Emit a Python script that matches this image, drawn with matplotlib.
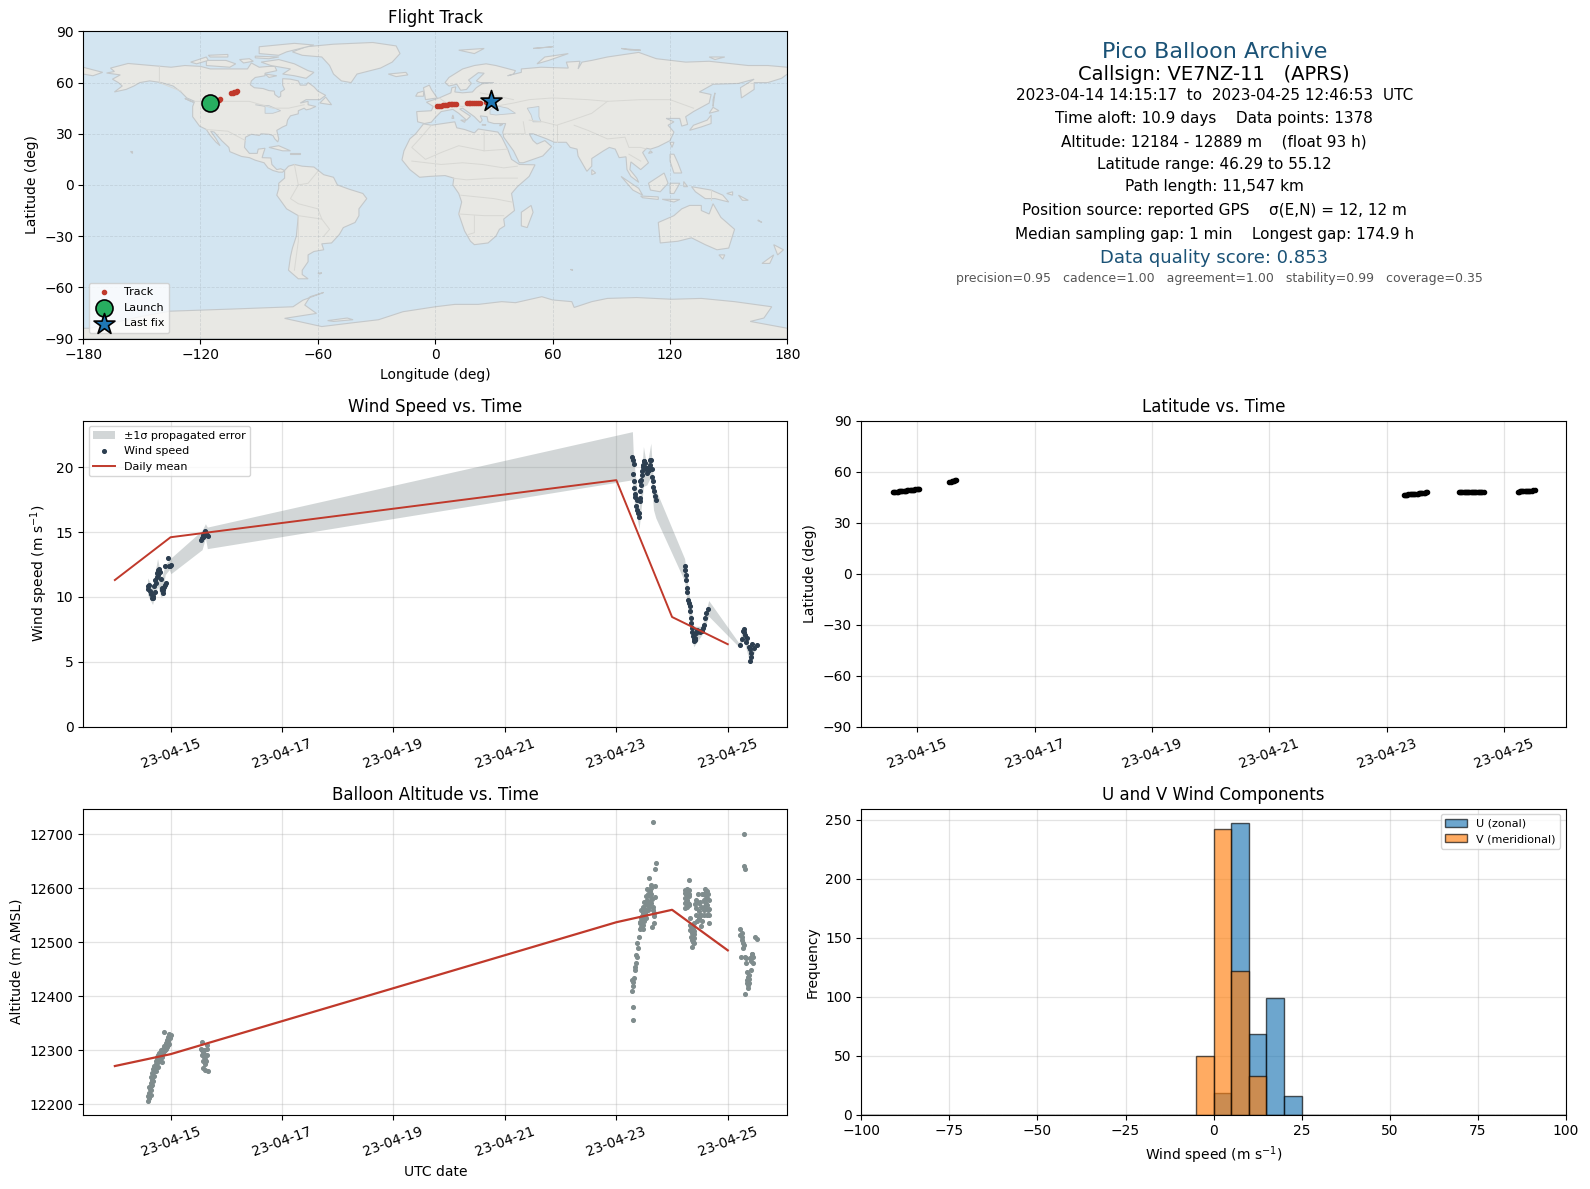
#!/usr/bin/env python3
"""Pico balloon flight summary figure (VE7NZ-11)."""

import matplotlib
matplotlib.use("Agg")
import matplotlib.dates as mdates
import matplotlib.pyplot as plt
import pandas as pd

RED = "#c0392b"
NAVY = "#2c3e50"
GREY = "#7f8c8d"
TITLE_BLUE = "#1a5276"

# all times are given as day of April 2023
tick_days = [15, 17, 19, 21, 23, 25]
mean_days = [14, 15, 23, 24, 25]
mean_wind = [11.3, 14.6, 19.0, 8.45, 6.35]
mean_alt = [12271, 12293, 12537, 12560, 12485]

wind_days = [14.586, 14.600, 14.616, 14.634, 14.650, 14.664, 14.676, 14.688, 14.706, 14.715, 14.724, 14.736,
             14.748, 14.757, 14.766, 14.775, 14.784, 14.796, 14.808, 14.826, 14.838, 14.847, 14.856, 14.868,
             14.880, 14.892, 14.916, 14.904, 14.946, 14.964, 14.985, 15.006,
             15.547, 15.565, 15.577, 15.589, 15.601, 15.613, 15.625, 15.637, 15.652, 15.667, 15.589, 15.625,
             23.288, 23.306, 23.312, 23.306, 23.324, 23.324, 23.330, 23.342, 23.366, 23.348, 23.372, 23.390,
             23.402, 23.414, 23.420, 23.420, 23.432, 23.438, 23.432, 23.444, 23.456, 23.468, 23.486, 23.505,
             23.516, 23.535, 23.559, 23.583, 23.607, 23.625, 23.637, 23.643, 23.655, 23.655, 23.667, 23.685,
             23.703, 23.474, 23.495, 23.526, 23.547, 23.571, 23.595, 23.613,
             24.225, 24.237, 24.243, 24.255, 24.267, 24.273, 24.285, 24.297, 24.315, 24.327, 24.339, 24.345,
             24.357, 24.375, 24.399, 24.417, 24.435, 24.477, 24.538, 24.568, 24.586, 24.616, 24.646,
             24.366, 24.387, 24.408, 24.456, 24.507, 24.553,
             25.228, 25.258, 25.276, 25.300, 25.318, 25.348, 25.378, 25.408, 25.396, 25.438, 25.468, 25.516,
             25.288, 25.333, 25.420, 25.402]
wind_speed = [10.82, 10.60, 10.95, 10.44, 10.25, 9.95, 10.10, 9.92, 10.82, 10.40, 11.33, 11.10,
              11.85, 11.55, 12.10, 11.70, 12.15, 12.00, 11.90, 11.38, 10.69, 10.50, 10.31, 10.56,
              10.75, 10.95, 11.08, 12.36, 13.00, 12.41, 12.42, 12.44,
              14.41, 14.54, 14.65, 14.79, 14.90, 15.05, 14.98, 14.92, 14.80, 14.67, 14.60, 14.75,
              20.82, 20.56, 20.23, 19.46, 18.90, 18.38, 17.95, 17.69, 17.49, 16.97, 16.72, 16.46,
              16.15, 16.46, 17.36, 17.62, 18.18, 18.64, 18.90, 19.03, 19.41, 19.67, 20.05, 20.44,
              20.31, 19.92, 19.54, 19.79, 20.56, 20.56, 19.85, 19.28, 18.90, 18.46, 18.13, 17.79,
              17.44, 20.20, 20.48, 19.85, 19.95, 19.70, 19.90, 20.20,
              12.36, 12.05, 11.72, 11.33, 10.69, 10.36, 9.79, 9.54, 9.28, 8.90, 8.38, 8.00,
              7.62, 6.97, 6.59, 6.85, 7.23, 7.36, 7.36, 7.87, 8.38, 8.77, 9.03,
              7.30, 6.75, 6.70, 7.45, 7.30, 7.60,
              6.26, 6.72, 7.36, 7.54, 7.10, 6.85, 6.15, 5.69, 5.05, 6.33, 6.08, 6.26,
              7.30, 6.50, 5.40, 6.00]

band_days = [14.586, 14.676, 14.766, 14.838, 14.904, 14.976, 15.006, 15.565, 15.625, 15.660,
             23.288, 23.306, 23.408, 23.486, 23.547, 23.619, 23.667, 23.709, 24.225, 24.285,
             24.387, 24.538, 24.658, 25.198, 25.288, 25.396, 25.516]
band_low = [10.18, 9.41, 10.82, 9.92, 11.72, 12.10, 11.79, 13.64, 14.54, 13.72,
            19.03, 17.74, 15.23, 18.51, 18.64, 19.28, 16.72, 16.08, 11.21, 9.03,
            6.15, 7.10, 8.51, 6.15, 6.72, 4.87, 6.15]
band_high = [11.46, 10.82, 12.95, 11.46, 12.49, 12.87, 13.00, 15.13, 15.64, 15.38,
             22.74, 20.82, 16.72, 21.59, 20.05, 21.85, 18.64, 18.26, 12.95, 10.82,
             7.74, 7.74, 9.72, 6.46, 7.74, 5.95, 6.33]

alt_days = [14.59, 14.60, 14.61, 14.62, 14.62, 14.63, 14.64, 14.65, 14.65, 14.66, 14.67, 14.68, 14.69, 14.70,
            14.70, 14.72, 14.73, 14.74, 14.75, 14.76, 14.77, 14.78, 14.79, 14.80, 14.81, 14.82, 14.84, 14.86,
            14.88, 14.90, 14.91, 14.92, 14.93, 14.94, 14.95, 14.96, 14.97, 14.98, 14.99, 15.00, 14.89,
            14.64, 14.65, 14.67, 14.69, 14.71, 14.73, 14.75, 14.77, 14.80, 14.82, 14.84, 14.85, 14.87,
            14.88, 14.90, 14.92, 14.94, 14.96, 14.98,
            15.559, 15.547, 15.577, 15.607, 15.649, 15.565, 15.607, 15.649, 15.589, 15.637, 15.625, 15.589,
            15.625, 15.667, 15.649, 15.595, 15.620, 15.570,
            23.306, 23.306, 23.288, 23.306, 23.294, 23.318, 23.288, 23.336, 23.330, 23.354, 23.348, 23.378,
            23.390, 23.378, 23.402, 23.420, 23.438, 23.474, 23.456, 23.486, 23.505, 23.535, 23.559, 23.583,
            23.607, 23.625, 23.649, 23.667, 23.637, 23.679, 23.547, 23.595, 23.619, 23.697, 23.691, 23.685,
            23.703, 23.649, 23.420, 23.456, 23.486, 23.516, 23.535, 23.571, 23.607,
            23.46, 23.48, 23.50, 23.52, 23.54, 23.56, 23.58, 23.60, 23.62, 23.64, 23.66, 23.68,
            23.45, 23.47, 23.50, 23.53, 23.57, 23.62, 23.44, 23.42,
            24.237, 24.237, 24.237, 24.237, 24.237, 24.267, 24.267, 24.267, 24.267, 24.297, 24.297, 24.297,
            24.297, 24.327, 24.327, 24.327, 24.357, 24.357, 24.357, 24.357, 24.387, 24.387, 24.387, 24.387,
            24.435, 24.435, 24.435, 24.477, 24.477, 24.477, 24.526, 24.526, 24.526, 24.568, 24.568, 24.568,
            24.598, 24.598, 24.598, 24.598, 24.628, 24.628, 24.628, 24.628, 24.658, 24.658, 24.658,
            24.25, 24.25, 24.28, 24.28, 24.31, 24.31, 24.34, 24.34, 24.37, 24.37, 24.40, 24.42,
            24.45, 24.46, 24.50, 24.50, 24.54, 24.54, 24.58, 24.58, 24.61, 24.61, 24.64, 24.64, 24.66,
            25.288, 25.288, 25.312, 25.228, 25.228, 25.258, 25.288, 25.276, 25.240, 25.318, 25.330, 25.427,
            25.450, 25.450, 25.408, 25.378, 25.348, 25.366, 25.384, 25.318, 25.480, 25.516,
            25.25, 25.26, 25.27, 25.34, 25.36, 25.37, 25.38, 25.40, 25.42, 25.44, 25.33, 25.35]
alt_m = [12207, 12215, 12222, 12212, 12232, 12228, 12240, 12235, 12250, 12245, 12258, 12252, 12266, 12262,
         12272, 12268, 12280, 12275, 12288, 12282, 12292, 12270, 12286, 12295, 12290, 12300, 12294, 12302,
         12308, 12300, 12314, 12310, 12320, 12306, 12325, 12317, 12330, 12312, 12322, 12328, 12334,
         12218, 12226, 12236, 12244, 12252, 12262, 12270, 12278, 12282, 12288, 12278, 12288, 12295,
         12298, 12308, 12302, 12316, 12310, 12325,
         12315, 12303, 12297, 12300, 12303, 12291, 12288, 12291, 12281, 12281, 12275, 12268,
         12263, 12262, 12309, 12293, 12284, 12300,
         12357, 12381, 12409, 12419, 12427, 12433, 12430, 12449, 12455, 12462, 12477, 12473,
         12489, 12499, 12510, 12524, 12529, 12532, 12548, 12554, 12563, 12557, 12578, 12588,
         12585, 12572, 12566, 12548, 12528, 12536, 12598, 12619, 12606, 12604, 12583, 12635,
         12646, 12722, 12537, 12540, 12545, 12550, 12570, 12560, 12595,
         12535, 12525, 12540, 12555, 12545, 12570, 12565, 12575, 12590, 12580, 12560, 12555,
         12560, 12565, 12575, 12585, 12590, 12600, 12545, 12535,
         12597, 12591, 12581, 12572, 12563, 12598, 12588, 12578, 12566, 12615, 12597, 12585,
         12569, 12544, 12532, 12523, 12529, 12517, 12504, 12492, 12535, 12520, 12507, 12498,
         12578, 12563, 12551, 12572, 12557, 12544, 12566, 12551, 12530, 12578, 12566, 12551,
         12598, 12588, 12575, 12563, 12594, 12581, 12569, 12551, 12578, 12551, 12535,
         12590, 12575, 12595, 12572, 12590, 12570, 12510, 12530, 12500, 12525, 12515, 12570,
         12540, 12590, 12550, 12575, 12590, 12540, 12560, 12590, 12595, 12570, 12560, 12590, 12562,
         12701, 12641, 12635, 12524, 12514, 12504, 12495, 12489, 12472, 12472, 12461, 12478,
         12473, 12461, 12449, 12440, 12430, 12421, 12424, 12404, 12509, 12506,
         12518, 12510, 12498, 12445, 12435, 12415, 12432, 12470, 12465, 12478, 12470, 12425]

lat_days = [14.59, 14.61, 14.63, 14.65, 14.67, 14.69, 14.71, 14.73, 14.75, 14.77, 14.79, 14.81, 14.83, 14.85,
            14.87, 14.89, 14.91, 14.93, 14.95, 14.97, 14.99, 15.01, 15.03,
            15.55, 15.57, 15.59, 15.61, 15.63, 15.65, 15.67,
            23.29, 23.31, 23.33, 23.35, 23.37, 23.39, 23.41, 23.43, 23.45, 23.47, 23.49, 23.51, 23.53, 23.55,
            23.57, 23.59, 23.61, 23.63, 23.65, 23.67, 23.69,
            24.23, 24.25, 24.27, 24.29, 24.31, 24.33, 24.35, 24.37, 24.39, 24.41, 24.43, 24.45, 24.47, 24.49,
            24.51, 24.53, 24.55, 24.57, 24.59, 24.61, 24.63, 24.66,
            25.23, 25.25, 25.27, 25.29, 25.31, 25.33, 25.35, 25.37, 25.39, 25.41, 25.43, 25.45, 25.47, 25.49, 25.52]
lat_deg = [48.0, 48.0, 48.1, 48.2, 48.2, 48.3, 48.4, 48.5, 48.6, 48.6, 48.7, 48.8, 48.9, 49.0,
           49.1, 49.1, 49.2, 49.3, 49.4, 49.5, 49.6, 49.8, 49.9,
           53.9, 54.1, 54.3, 54.5, 54.7, 54.9, 55.1,
           46.3, 46.3, 46.4, 46.4, 46.5, 46.5, 46.6, 46.7, 46.7, 46.8, 46.9, 47.0, 47.0, 47.1,
           47.2, 47.3, 47.4, 47.5, 47.6, 47.7, 47.8,
           48.2, 48.2, 48.1, 48.0, 48.0, 47.9, 47.9, 47.8, 47.8, 47.8, 47.8, 47.7, 47.7, 47.8,
           47.8, 47.8, 47.8, 47.9, 47.9, 48.0, 48.0, 48.1,
           48.2, 48.2, 48.3, 48.3, 48.4, 48.4, 48.5, 48.5, 48.6, 48.6, 48.7, 48.7, 48.8, 48.9, 49.0]

track_lon = [-110.6, -110.0, -104.2, -103.5, -102.8, -102.0, -101.3, 0.8, 1.8, 2.8, 3.8, 4.8, 5.8, 6.8, 7.8, 8.8, 9.8,
             10.8, 16.0, 17.0, 18.0, 19.0, 20.0, 21.0, 22.0, 23.0, 26.0, 27.0]
track_lat = [49.9, 50.6, 53.9, 54.1, 54.4, 54.7, 55.0, 46.3, 46.4, 46.5, 46.6, 46.8, 47.0, 47.2, 47.3, 47.4, 47.5,
             47.6, 47.8, 47.9, 47.9, 47.9, 47.9, 48.0, 48.0, 48.1, 48.4, 48.8]
launch_lon, launch_lat = -115.0, 47.9
last_lon, last_lat = 28.6, 49.3

hist_edges = list(range(-100, 105, 5))
hist_left = [-5, 0, 5, 10, 15, 20]
u_counts = [0, 18, 247, 68, 99, 16]
v_counts = [50, 242, 122, 33, 0, 0]

land = [
    # North America
    [(-168, 65.6), (-164, 66.5), (-166, 68.5), (-157, 71.2), (-141, 69.6), (-135, 69), (-128, 70), (-120, 69.5),
     (-115, 68), (-108, 68), (-100, 68), (-96, 68), (-94, 71.5), (-90, 69), (-85, 69.5), (-82, 69.5), (-81, 67),
     (-87, 65.5), (-87, 64), (-92, 63), (-94, 61), (-94.5, 58.7), (-92.5, 57), (-88, 56.5), (-85, 55.3), (-82.3, 55),
     (-82, 53), (-80, 51.3), (-79, 52), (-79, 54.5), (-77, 56), (-78, 58.5), (-78, 62.3), (-74, 62), (-70, 61),
     (-69, 58.5), (-66, 58.5), (-65, 60), (-62, 57.5), (-60, 55), (-56, 52.5), (-59, 50), (-66, 50), (-69, 48),
     (-65, 49), (-65, 47), (-61, 46), (-64, 44.5), (-66, 44), (-67, 45), (-70, 43.5), (-70, 41.7), (-74, 40.5),
     (-75.5, 38), (-76, 35), (-78, 34), (-81, 32), (-80, 27), (-80.5, 25.2), (-82, 27), (-83, 29), (-85, 29.7),
     (-89, 30), (-90, 29), (-94, 29.7), (-97, 28), (-97.5, 22), (-95, 18.5), (-91, 18.5), (-90.5, 21), (-87, 21.5),
     (-88, 18), (-88.5, 16), (-84, 15.8), (-83.5, 12), (-81, 9), (-79, 9.5), (-77, 8.5), (-78, 7.5), (-80, 7.5),
     (-83, 8.5), (-85.5, 10), (-87.5, 13), (-92, 14.5), (-95, 16), (-99, 16.7), (-105, 19.5), (-105.5, 22),
     (-109, 25.8), (-113, 31), (-114.8, 31.5), (-112, 27), (-110, 23), (-112, 25), (-115, 29), (-117, 32.5),
     (-120.5, 34.5), (-124, 40), (-124, 46), (-123, 49), (-127, 51), (-130, 54.5), (-134, 58), (-140, 60), (-146, 61),
     (-151, 60), (-154, 58), (-158, 56), (-164, 54.5), (-160, 58), (-162, 60), (-165, 62), (-161, 64.5)],
    # Greenland and the Canadian arctic
    [(-73, 78), (-66, 81), (-52, 82.5), (-32, 83.5), (-20, 81.5), (-18, 77), (-22, 72), (-28, 68.5), (-40, 65),
     (-43, 60), (-48, 61), (-52, 65), (-54, 70), (-58, 75), (-68, 76)],
    [(-80, 73.5), (-72, 71), (-65, 67), (-62, 66), (-66, 62.5), (-72, 64), (-78, 65), (-74, 68), (-84, 70), (-89, 72)],
    [(-117, 70), (-105, 69), (-102, 71), (-107, 73), (-117, 73)],
    [(-90, 77), (-90, 81), (-72, 83), (-62, 82), (-76, 78), (-80, 76)],
    [(-92, 75.5), (-80, 75), (-85, 74), (-92, 74.5)],
    [(-125, 72), (-117, 75), (-116, 73), (-122, 71)],
    [(-116, 76), (-106, 76.5), (-106, 75), (-115, 75)],
    [(-100, 73.5), (-95, 74), (-93, 72.5), (-98, 71.5)],
    [(-87, 65), (-81, 64), (-85, 63)],
    [(-59, 48), (-53, 47), (-56, 51.5)],
    [(-128, 50.7), (-123.5, 48.5), (-125, 49)],
    [(-85, 22), (-80, 23), (-74, 20), (-78, 20)],
    [(-74, 19), (-69, 19), (-69, 18), (-74, 18)],
    [(-156, 20), (-155, 20), (-155, 19)],
    # South America
    [(-77, 8.5), (-75, 11), (-72, 12), (-68, 11), (-62, 10.5), (-57, 6), (-52, 4.5), (-50, 0), (-44, -2.5), (-37, -5),
     (-35, -8), (-39, -14), (-39, -18), (-41, -22), (-47, -25), (-49, -29), (-53, -34), (-58, -34.5), (-57, -38),
     (-62, -39), (-65, -41), (-65, -45), (-68, -50), (-68, -52.5), (-65, -55), (-70, -55), (-75, -50), (-74, -42),
     (-73, -37), (-71, -30), (-70, -18), (-76, -14), (-81, -6), (-80, -2), (-80, 1), (-77, 4)],
    [(-60, -51.7), (-58, -51.5), (-59, -52.2)],
    # Africa
    [(-6, 35.8), (-2, 35), (10, 37), (11, 33.5), (15, 32.5), (20, 30.5), (22, 32.8), (32, 31), (34, 28), (37, 21),
     (39, 15), (43, 12), (51, 11.8), (48, 5), (42, -1), (39, -5), (40.5, -15), (35, -20), (35.5, -24), (32.8, -26),
     (31, -30), (27, -34), (20, -35), (18, -33), (15, -27), (12, -17), (13.5, -10), (12, -5), (9, 0), (9.5, 4), (5, 5.5),
     (-3, 5), (-8, 4.5), (-13, 9), (-17, 14.7), (-16, 20), (-13, 27), (-10, 30)],
    [(44, -16), (49, -12), (50, -16), (47, -25), (44, -24)],
    # Eurasia
    [(-9, 37), (-9.5, 43), (-2, 43.5), (-1, 46), (-4.5, 48.5), (2, 51), (4, 52), (8, 54), (8.5, 57), (10.5, 57.5),
     (10, 54.5), (14, 54), (19, 54.5), (21, 57), (24, 59.3), (30, 60), (23, 60), (21, 61), (25, 65.5), (22, 65.8),
     (17, 61.5), (18.5, 59.5), (16, 56), (13, 55.5), (11, 59), (7, 58), (5, 60), (7, 63), (14, 68), (20, 70), (26, 71),
     (31, 70), (41, 67), (40, 65), (37, 64), (44, 66), (44, 68), (54, 69), (68, 68.5), (67, 72), (74, 72.5), (73, 68),
     (75, 72), (80, 73), (88, 75), (104, 77.7), (113, 74), (128, 72), (140, 72.5), (160, 70), (170, 70), (180, 69),
     (180, 65), (177, 62.5), (170, 60), (163, 60), (163, 56), (156.5, 51), (156, 57), (163, 62), (155, 59.5), (142, 59),
     (135, 54.5), (141, 53), (140, 48), (132, 43), (128, 40), (129, 35.5), (126, 34.5), (125, 39), (121, 39), (118, 39),
     (122, 37), (119, 35), (122, 31), (120, 26), (114, 22.5), (110, 21), (108, 21.5), (106, 19), (109, 13), (105, 9),
     (100, 13.5), (99.5, 9), (103, 4), (104, 1.5), (100, 5), (98, 9), (97.5, 16.5), (94, 16), (92, 21), (89, 22),
     (86, 20), (80, 15.5), (80, 11), (77.5, 8), (73, 17), (72.5, 21), (69, 22), (67, 25), (61, 25), (57, 27), (50, 30),
     (48, 30), (50, 26), (52, 24), (56, 26), (59.5, 22.5), (55, 17), (45, 13), (43, 13), (40, 20), (35, 28), (34.5, 31),
     (36, 36), (30, 36), (27, 37), (26.5, 40), (23, 40.5), (24, 38), (23, 36.5), (20, 40), (14, 45), (12.5, 44.5),
     (18, 40.3), (16, 38), (12, 42), (9, 44.3), (3, 43), (0, 39.5), (-2, 36.8), (-5.5, 36)],
    [(-180, 69), (-170, 66), (-175, 64), (-180, 65)],
    [(-5, 50), (1, 51), (-2, 56), (-3, 58.5), (-6, 57)],
    [(-10, 52), (-6, 52), (-6, 55), (-9, 54)],
    [(-24, 65), (-15, 66), (-14, 64.5), (-20, 63.5)],
    [(12, 79), (25, 80), (20, 77)],
    [(52, 71), (56, 75), (68, 77), (58, 73)],
    [(55, 80.5), (60, 81), (50, 80)],
    [(95, 80), (100, 79), (105, 79)],
    [(140, 75), (148, 75), (143, 73.5)],
    [(130, 32), (136, 34), (141, 36), (141, 41), (139, 38), (132, 35)],
    [(140, 42), (145, 43.5), (142, 45.5)],
    [(142, 46), (143, 54), (142, 50)],
    [(120, 18), (122, 18), (124, 13), (126, 7), (122, 7), (120, 14)],
    [(120, 25), (122, 25), (121, 22)],
    [(110, 20), (111, 19), (109, 18.5)],
    [(80, 9), (82, 7), (80, 6)],
    [(9, 41), (9.5, 39), (8.5, 39)],
    [(13, 38), (15.5, 38), (15, 36.7)],
    [(24, 35.5), (26, 35.2), (24, 35)],
    [(33, 35.3), (34.5, 35.5), (33, 34.6)],
    # South-east Asia and Oceania
    [(109, 1), (117, 7), (119, 1), (115, -4), (110, -3)],
    [(95, 5), (104, -2), (106, -6), (101, -3)],
    [(105, -6.5), (114, -7), (114, -8.5), (106, -7.5)],
    [(120, 1), (125, 1), (122, -5), (120, -5)],
    [(116, -8.4), (125, -8.5), (122, -10)],
    [(127, 2), (129, -1), (127, -1)],
    [(131, -1), (141, -3), (147, -6), (150, -10), (143, -8), (138, -8), (133, -4)],
    [(149, -5), (152, -4), (152, -6)],
    [(155, -6), (160, -9), (157, -9)],
    [(165, -21), (167, -22), (165, -20.5)],
    [(114, -22), (122, -18), (126, -14), (130, -12), (136, -12), (136, -15), (140, -17), (142, -11), (146, -19),
     (153, -26), (150, -37), (144, -38), (138, -35), (131, -31), (124, -33), (115, -34)],
    [(145, -41), (148, -41), (147, -43.5)],
    [(173, -35), (178, -38), (175, -41)],
    [(173, -41), (171, -46), (167, -46)],
    [(69, -49), (70, -49), (70, -49.7)],
    # Antarctica
    [(-180, -90), (-180, -84), (-176.6, -84), (-150, -77), (-135.7, -74), (-103, -72.7), (-72.7, -71.4), (-67.6, -67.5),
     (-57, -63), (-64, -65.5), (-66.7, -70.4), (-60.7, -75.3), (-77, -78.2), (-58, -83), (-43.7, -81), (-29, -79),
     (-16.5, -74.3), (0, -71.4), (10, -70), (22, -70), (34, -68.4), (41, -69), (54.5, -65.5), (60, -67.4), (69.8, -68.4),
     (71, -71.8), (80, -68.4), (88, -66.5), (103, -66), (121, -67), (136, -66.5), (153, -68.4), (172, -71.4), (168, -78),
     (161, -80), (180, -84), (180, -90)],
    [(-55, -79.5), (-45, -78), (-42, -79), (-52, -80)],
]

inland_water = [
    [(28, 41.5), (28, 44), (30.5, 46), (33, 46), (37, 45), (41, 42), (36, 41.5), (31, 41)],
    [(47, 45), (53, 46), (53, 40), (54, 37), (50, 37), (49, 41)],
    [(-92, 47), (-85, 46.5), (-81, 44.5), (-79, 43.5), (-83, 42), (-87, 42), (-87, 46)],
]

borders = [
    [(-141, 69.6), (-141, 60), (-130, 55)],
    [(-123, 49), (-95, 49), (-83, 45), (-75, 45), (-67, 47)],
    [(-117, 32.5), (-106, 31.5), (-97, 26)],
    [(-70, -18), (-58, -20), (-54, -26), (-57, -30)],
    [(-70, -18), (-70, -33), (-72, -50)],
    [(-72, 12), (-70, 0), (-74, -8), (-70, -11), (-60, -14), (-58, -20)],
    [(-60, 8), (-65, 1), (-70, 0)],
    [(-2, 35), (-8, 27), (-12, 22), (-5, 15), (3, 19), (12, 23), (25, 20), (25, 31)],
    [(25, 20), (37, 21)],
    [(-12, 14), (3, 12), (14, 13), (24, 12), (35, 10), (42, 11)],
    [(9, 4), (16, 3), (30, 4), (42, 4)],
    [(13, -6), (30, -8), (39, -10)],
    [(12, -17), (25, -18), (35, -18)],
    [(20, -18), (20, -28), (17, -29)],
    [(2, 51), (7, 47), (14, 46), (20, 48), (30, 46), (40, 48), (48, 50), (60, 51), (78, 50), (88, 49), (105, 50), (120, 50), (132, 45)],
    [(23, 54), (32, 52), (40, 50)],
    [(48, 38), (55, 37), (62, 35), (70, 38), (80, 42), (88, 49)],
    [(62, 25), (62, 35)],
    [(45, 37), (46, 30), (35, 30)],
    [(71, 35), (78, 32), (88, 27), (97, 28), (99, 22), (105, 22), (108, 21)],
    [(99, 18), (105, 14)],
    [(141, -3), (141, -9)],
]


def to_dates(days):
    # day of April 2023 as a float -> timestamps
    return [pd.Timestamp("2023-04-01") + pd.to_timedelta(d - 1, unit="D") for d in days]


def style_time_axis(ax, first=13.43, last=26.07):
    ax.set_xticks(to_dates(tick_days))
    ax.xaxis.set_major_formatter(mdates.DateFormatter("%y-%m-%d"))
    ax.tick_params(axis="x", rotation=20)
    ax.set_xlim(to_dates([first, last]))
    ax.grid(True, color="#b0b0b0", alpha=0.35, linewidth=0.9)
    ax.set_axisbelow(True)


W, H = 1590, 1189
fig = plt.figure(figsize=(W / 100, H / 100), dpi=100)


def make_axes(left, top, right, bottom):
    return fig.add_axes([left / W, 1 - bottom / H, (right - left) / W, (bottom - top) / H])


# flight track map
ax = make_axes(83.1, 31.4, 787.4, 338.5)
ax.set_facecolor("#d3e5f1")
for poly in land:
    ax.fill(*zip(*poly), facecolor="#e8e8e4", edgecolor="#c4c8ca", linewidth=0.8, zorder=1)
for poly in inland_water:
    ax.fill(*zip(*poly), facecolor="#d3e5f1", edgecolor="#c4c8ca", linewidth=0.6, zorder=1.1)
for line in borders:
    ax.plot(*zip(*line), color="#d8d8d4", linewidth=0.7, zorder=1.2)
ax.grid(True, color="#9aa5ab", alpha=0.3, linewidth=0.6, linestyle="--", zorder=1.5)
ax.scatter(track_lon, track_lat, s=9, color=RED, zorder=3, label="Track")
ax.scatter(launch_lon, launch_lat, s=150, color="#27ae60", edgecolor="black", linewidth=1.2, zorder=4, label="Launch")
ax.scatter(last_lon, last_lat, s=250, color="#1f77b4", marker="*", edgecolor="black", linewidth=1.2, zorder=5, label="Last fix")
ax.set_xlim(-180, 180)
ax.set_ylim(-90, 90)
ax.set_xticks(range(-180, 181, 60))
ax.set_yticks(range(-90, 91, 30))
ax.set_xlabel("Longitude (deg)")
ax.set_ylabel("Latitude (deg)")
ax.set_title("Flight Track")
ax.legend(loc="lower left", fontsize=8)

# text summary, pixel rows from the top of the figure
cx = 1214.3 / W
text_rows = [
    (52, "Pico Balloon Archive", 16, TITLE_BLUE),
    (74.5, "Callsign: VE7NZ-11   (APRS)", 14, "black"),
    (96, "2023-04-14 14:15:17  to  2023-04-25 12:46:53  UTC", 11, "black"),
    (118.5, "Time aloft: 10.9 days    Data points: 1378", 11, "black"),
    (142, "Altitude: 12184 - 12889 m    (float 93 h)", 11, "black"),
    (164.5, "Latitude range: 46.29 to 55.12", 11, "black"),
    (187, "Path length: 11,547 km", 11, "black"),
    (211, "Position source: reported GPS    σ(E,N) = 12, 12 m", 11, "black"),
    (234.5, "Median sampling gap: 1 min    Longest gap: 174.9 h", 11, "black"),
    (258, "Data quality score: 0.853", 13, TITLE_BLUE),
]
for row, label, size, color in text_rows:
    fig.text(cx, 1 - row / H, label, ha="center", va="center", fontsize=size, color=color)
fig.text(1219 / W, 1 - 279 / H, "precision=0.95   cadence=1.00   agreement=1.00   stability=0.99   coverage=0.35",
         ha="center", va="center", fontsize=9, color="#555555")

# wind speed
ax = make_axes(83.1, 420.5, 787.4, 726.6)
ax.fill_between(to_dates(band_days), band_low, band_high, color=GREY, alpha=0.35, linewidth=0, label="±1σ propagated error")
ax.scatter(to_dates(wind_days), wind_speed, s=7, color=NAVY, zorder=3, label="Wind speed")
ax.plot(to_dates(mean_days), mean_wind, color=RED, linewidth=1.4, zorder=4, label="Daily mean")
style_time_axis(ax)
ax.set_ylim(0, 23.6)
ax.set_ylabel("Wind speed (m s$^{-1}$)")
ax.set_title("Wind Speed vs. Time")
ax.legend(loc="upper left", fontsize=8)

# latitude, the time range here only spans the fixes
ax = make_axes(861.4, 420.5, 1565.7, 726.6)
ax.scatter(to_dates(lat_days), lat_deg, s=9, color="black", zorder=3)
style_time_axis(ax, 14.05, 26.05)
ax.set_ylim(-90, 90)
ax.set_yticks(range(-90, 91, 30))
ax.set_ylabel("Latitude (deg)")
ax.set_title("Latitude vs. Time")

# altitude
ax = make_axes(83.1, 808.7, 787.4, 1114.7)
ax.scatter(to_dates(alt_days), alt_m, s=7, color=GREY, zorder=3)
ax.plot(to_dates(mean_days), mean_alt, color=RED, linewidth=1.6, zorder=4)
style_time_axis(ax)
ax.set_ylim(12181, 12747)
ax.set_xlabel("UTC date")
ax.set_ylabel("Altitude (m AMSL)")
ax.set_title("Balloon Altitude vs. Time")

# U and V histogram
ax = make_axes(861.4, 808.7, 1565.7, 1114.7)
centers = [left + 2.5 for left in hist_left]
ax.hist(centers, bins=hist_edges, weights=u_counts, color="#1f77b4", alpha=0.65, edgecolor="black", label="U (zonal)")
ax.hist(centers, bins=hist_edges, weights=v_counts, color="#ff7f0e", alpha=0.65, edgecolor="black", label="V (meridional)")
ax.set_xlim(-100, 100)
ax.grid(True, color="#b0b0b0", alpha=0.35, linewidth=0.9)
ax.set_axisbelow(True)
ax.set_xlabel("Wind speed (m s$^{-1}$)")
ax.set_ylabel("Frequency")
ax.set_title("U and V Wind Components")
ax.legend(loc="upper right", fontsize=8)

fig.savefig("out.png", dpi=100)
